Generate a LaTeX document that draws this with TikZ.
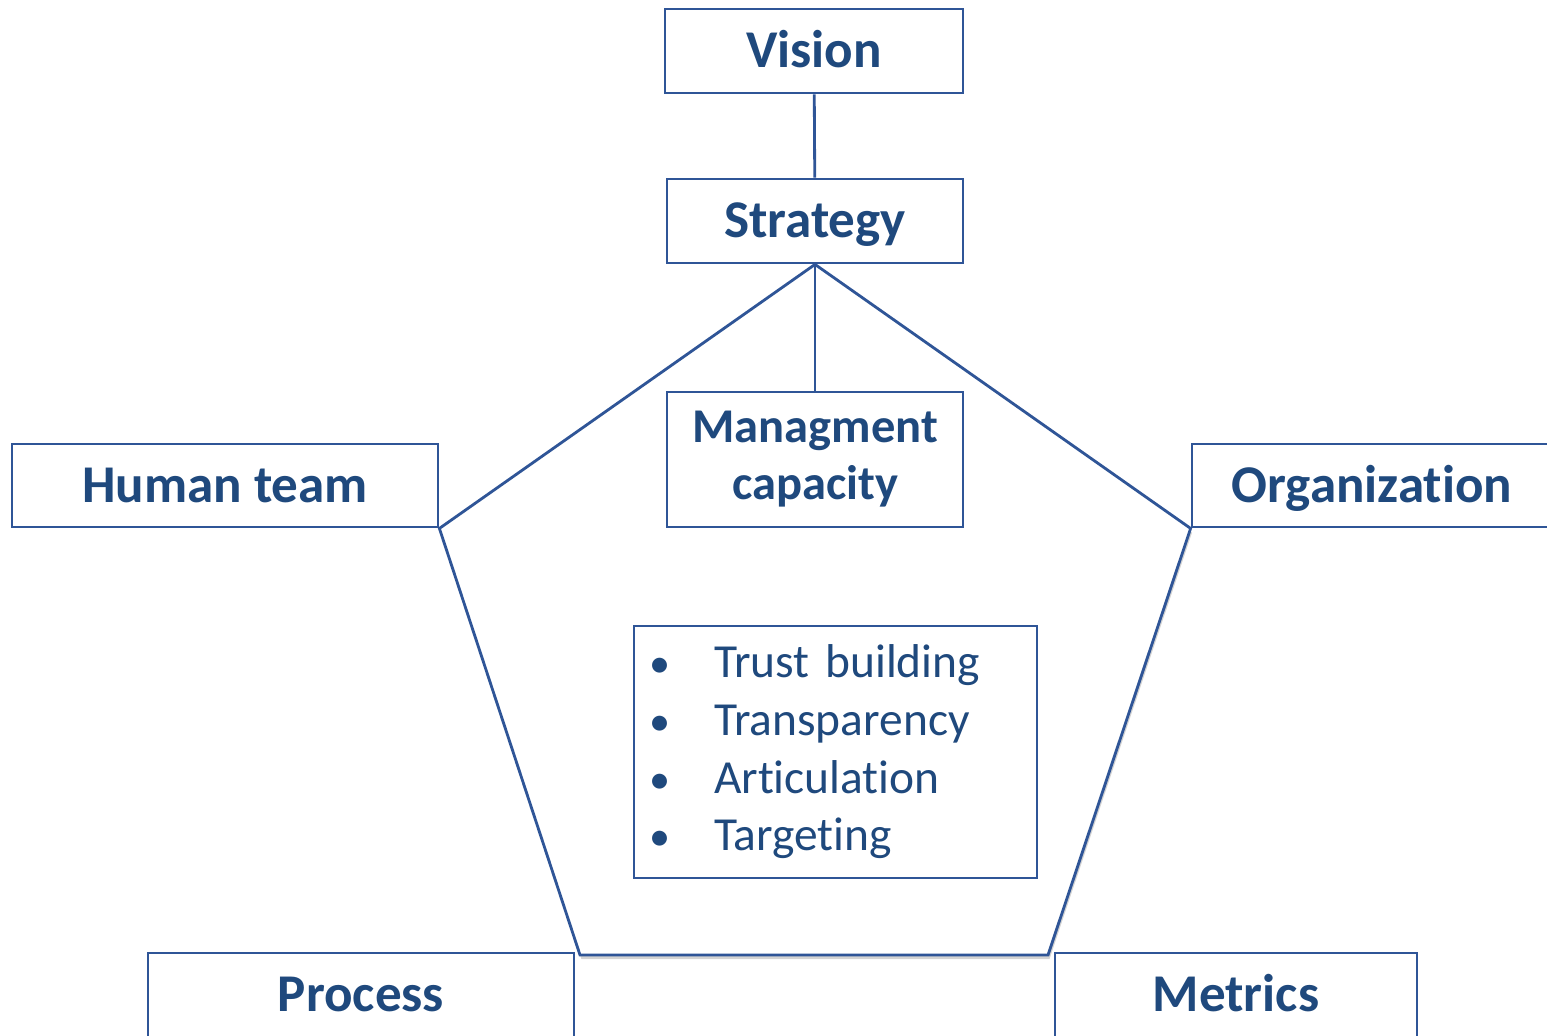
\documentclass[tikz,border=0pt]{standalone}
\usepackage{fontspec}
\setmainfont{Carlito}[RawFeature=-liga]
\usetikzlibrary{shadows,backgrounds}

\definecolor{navy}{RGB}{31,73,125}
\definecolor{edge}{RGB}{47,85,151}

\tikzset{
  box/.style={draw=edge, line width=0.8pt, fill=white, text=navy,
    font=\fontsize{15.1}{16.2}\bfseries\selectfont, align=center,
    text height=12.9pt, text depth=3.3pt},
  frame/.style={draw=edge, line width=0.8pt}
}

\begin{document}
\begin{tikzpicture}[x=0.1mm,y=-0.1mm]
\useasboundingbox (0,0) rectangle (1547,1035);

\node [box, minimum width=29.8mm, minimum height=8.4mm] (vision) at (814,51) {Vision};
\node [box, minimum width=29.6mm, minimum height=8.4mm] (strategy) at (815,221) {Strategy};
\draw [frame] (vision) -- (strategy);

\node [box, minimum width=29.6mm, minimum height=13.5mm, text height=, text depth=,
  font=\fontsize{13.8}{16.2}\bfseries\selectfont] (mgmt) at (815,459.5) {Managment\\capacity};
\draw [frame] (strategy.south) -- (mgmt.north);

\node [box, minimum width=42.6mm, minimum height=8.3mm] (human) at (225,485.5) {Human team};
\node [box, minimum width=36mm, minimum height=8.3mm] (orga) at (1372,485.5) {Organization};
\node [box, minimum width=42.6mm, minimum height=8.4mm] (process) at (361,995) {Process};
\node [box, minimum width=36.2mm, minimum height=8.4mm] (metrics) at (1236,995) {Metrics};

% the pentagon round the centre
\coordinate (bl) at (580,955);
\coordinate (br) at (1048,955);
\begin{scope}[on background layer]
\draw [frame, fill=white, drop shadow={shadow xshift=0.4pt, shadow yshift=-1.2pt, opacity=0.35}]
  (strategy.south) -- (human.south east) -- (bl) -- (br) -- (orga.south west) -- cycle;
\end{scope}

% values
\node [frame, text=navy, align=left, inner xsep=1.5mm, text width=37.3mm,
  minimum height=25.2mm, font=\fontsize{13.5}{16.4}\selectfont] (values) at (835.5,752)
  {\makebox[6.5mm][l]{\large\textbullet}Trust building\\
   \makebox[6.5mm][l]{\large\textbullet}Transparency\\
   \makebox[6.5mm][l]{\large\textbullet}Articulation\\
   \makebox[6.5mm][l]{\large\textbullet}Targeting};
\end{tikzpicture}
\end{document}
